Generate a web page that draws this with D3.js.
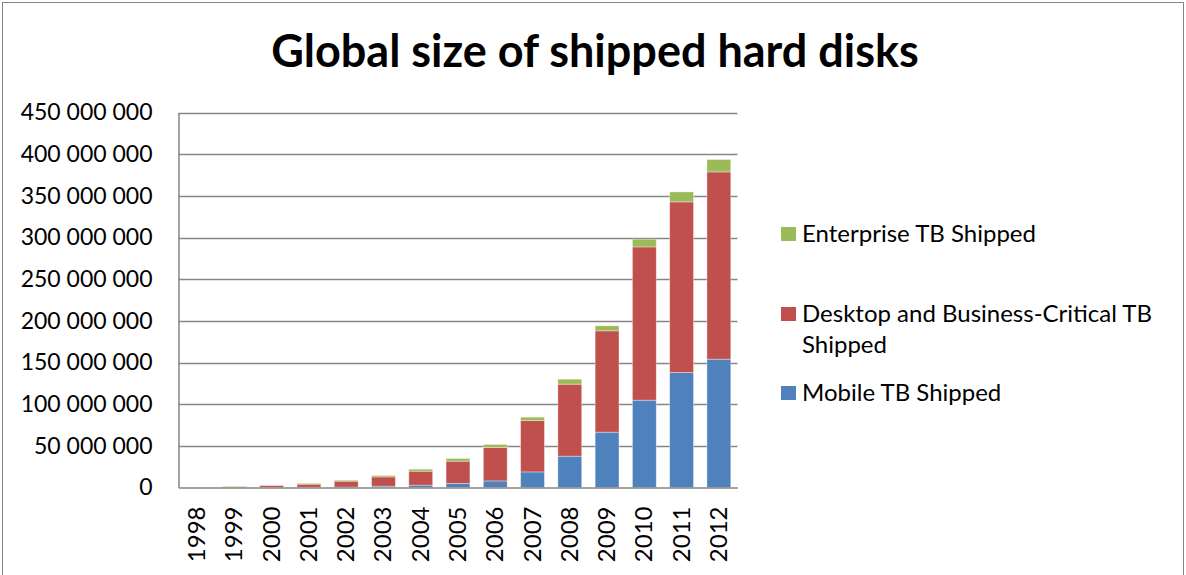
<!DOCTYPE html>
<html>
<head>
<meta charset="utf-8">
<script src="https://cdn.jsdelivr.net/npm/d3@7/dist/d3.min.js"></script>
<style>
  html, body { margin: 0; padding: 0; background: #fff; }
  svg { display: block; font-family: Lato, "Open Sans", sans-serif; }
</style>
</head>
<body>
<svg id="chart" width="1186" height="575"></svg>
<script>
// Hard disk capacity shipped per year (TB)
const years = ["1998","1999","2000","2001","2002","2003","2004","2005","2006","2007","2008","2009","2010","2011","2012"];
const mobileTB     = [0, 100000, 200000, 300000, 500000, 1600000, 2800000, 4800000, 7900000, 18700000, 37600000, 66400000, 104800000, 138000000, 154000000];
const desktopTB    = [200000, 600000, 2300000, 3700000, 7100000, 11100000, 16800000, 26800000, 40100000, 61700000, 86400000, 121600000, 183900000, 204700000, 224700000];
const enterpriseTB = [200000, 800000, 300000, 1000000, 1200000, 1700000, 2400000, 3200000, 3600000, 4000000, 6000000, 6000000, 9300000, 12000000, 14900000];
const seriesNames  = ["Mobile TB Shipped", "Desktop and Business-Critical TB Shipped", "Enterprise TB Shipped"];
const seriesColors = ["#4F81BD", "#C0504D", "#9BBB59"];
const yTicks = [0, 50000000, 100000000, 150000000, 200000000, 250000000, 300000000, 350000000, 400000000, 450000000];

const svg = d3.select("#chart");
const W = 1186, H = 575;

// outer frame
svg.append("rect")
  .attr("x", 2.5).attr("y", 2.5).attr("width", W - 5).attr("height", H + 10)
  .attr("fill", "#fff").attr("stroke", "#868686").attr("stroke-width", 1);

// title
svg.append("text")
  .attr("x", 595).attr("y", 67)
  .attr("text-anchor", "middle")
  .attr("font-size", 45).attr("font-weight", "bold").attr("fill", "#000")
  .text("Global size of shipped hard disks");

const plot = { left: 178.5, right: 737.5, top: 112.5, bottom: 487.5 };

const x = d3.scaleBand().domain(years).range([plot.left, plot.right]).paddingInner(0.36).paddingOuter(0.18);
const y = d3.scaleLinear().domain([0, 450000000]).range([plot.bottom, plot.top]);

// gridlines
svg.append("g").selectAll("line").data(yTicks.filter(d => d > 0)).join("line")
  .attr("x1", plot.left).attr("x2", plot.right)
  .attr("y1", d => Math.round(y(d)) + 0.5).attr("y2", d => Math.round(y(d)) + 0.5)
  .attr("stroke", "#868686").attr("stroke-width", 1.3);

// stacked bars
const rows = years.map((yr, i) => ({ year: yr, m: mobileTB[i], d: desktopTB[i], e: enterpriseTB[i] }));
const stack = d3.stack().keys(["m", "d", "e"])(rows);

svg.append("g").selectAll("g").data(stack).join("g")
  .attr("fill", (s, i) => seriesColors[i])
  .selectAll("rect").data(s => s).join("rect")
  .attr("x", d => x(d.data.year))
  .attr("width", x.bandwidth())
  .attr("y", d => y(d[1]))
  .attr("height", d => Math.max(0, y(d[0]) - y(d[1])))
  .attr("stroke", "rgba(255,255,255,0.45)").attr("stroke-width", 0.8);

// y axis
const yAxis = svg.append("g").attr("transform", `translate(${plot.left},0)`)
  .call(d3.axisLeft(y).tickValues(yTicks).tickSize(0).tickPadding(26)
    .tickFormat(d => d3.format(",")(d).replace(/,/g, " ")));
yAxis.select(".domain").attr("stroke", "#868686").attr("stroke-width", 1.5);
yAxis.selectAll("text").attr("font-size", 23).attr("fill", "#000").attr("font-family", "Lato, sans-serif");

// x axis
const xAxis = svg.append("g").attr("transform", `translate(0,${plot.bottom})`)
  .call(d3.axisBottom(x).tickSize(0).tickPadding(0));
xAxis.select(".domain").attr("stroke", "#868686").attr("stroke-width", 1.5);
xAxis.selectAll("text")
  .attr("font-size", 24).attr("fill", "#000").attr("font-family", "Lato, sans-serif")
  .attr("text-anchor", "end").attr("dy", null)
  .attr("transform", "translate(8,19) rotate(-90)");

// legend
const legend = svg.append("g").attr("font-size", 24).attr("fill", "#000");
const legendItems = [
  { i: 2, y: 234, lines: [seriesNames[2]] },
  { i: 1, y: 314, lines: ["Desktop and Business-Critical TB", "Shipped"] },
  { i: 0, y: 393, lines: [seriesNames[0]] }
];
legendItems.forEach(it => {
  legend.append("rect").attr("x", 781).attr("y", it.y - 7).attr("width", 15).attr("height", 14)
    .attr("fill", seriesColors[it.i]);
  const t = legend.append("text").attr("x", 802).attr("y", it.y + 8);
  it.lines.forEach((ln, k) => t.append("tspan").attr("x", 802).attr("dy", k === 0 ? 0 : 31).text(ln));
});
</script>
</body>
</html>
